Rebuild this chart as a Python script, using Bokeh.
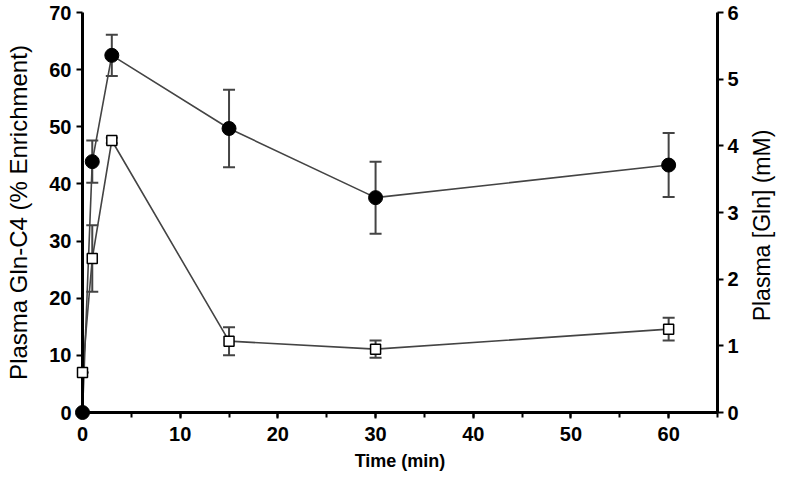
import math
from bokeh.plotting import figure
from bokeh.models import Range1d, LinearAxis, SingleIntervalTicker, Whisker, ColumnDataSource, Label
from bokeh.embed import file_html
from bokeh.resources import INLINE

time_min = [0, 1, 3, 15, 30, 60]
enrich = [0, 43.9, 62.5, 49.7, 37.6, 43.3]
enrich_err = [0, 3.7, 3.6, 6.8, 6.3, 5.6]
gln_mM = [0.60, 2.31, 4.08, 1.07, 0.95, 1.25]
gln_err = [0.0, 0.50, 0.04, 0.21, 0.13, 0.17]

FONT = "Liberation Sans"
LINE = "#444444"

W, H = 777, 477
FL, FR, FT, FB = 82, 717, 12, 412
p = figure(width=W, height=H, output_backend="svg", toolbar_location=None,
           x_range=Range1d(0, 65), y_range=Range1d(0, 70),
           min_border_left=FL, min_border_right=W - FR, min_border_top=FT,
           min_border_bottom=H - FB)
p.extra_y_ranges = {"gln": Range1d(0, 6)}
p.outline_line_color = None
p.xgrid.visible = False
p.ygrid.visible = False
p.background_fill_color = "white"

src_e = ColumnDataSource(dict(x=time_min, y=enrich,
                              lo=[v - e for v, e in zip(enrich, enrich_err)],
                              hi=[v + e for v, e in zip(enrich, enrich_err)]))
src_g = ColumnDataSource(dict(x=time_min, y=gln_mM,
                              lo=[v - e for v, e in zip(gln_mM, gln_err)],
                              hi=[v + e for v, e in zip(gln_mM, gln_err)]))

def whisk(src, **kw):
    w = Whisker(source=src, base="x", lower="lo", upper="hi", line_color=LINE, line_width=2, **kw)
    for h in (w.upper_head, w.lower_head):
        h.size = 12
        h.line_color = LINE
        h.line_width = 2
    p.add_layout(w)

whisk(src_e)
whisk(src_g, y_range_name="gln")

p.line("x", "y", source=src_g, line_color=LINE, line_width=1.6, y_range_name="gln")
p.scatter("x", "y", source=src_g, marker="square", size=10, fill_color="white",
          line_color="black", line_width=1.5, y_range_name="gln", level="overlay")

p.line("x", "y", source=src_e, line_color=LINE, line_width=1.6)
p.scatter("x", "y", source=src_e, marker="circle", size=14, fill_color="black",
          line_color="black", level="overlay")

def style(ax):
    ax.axis_line_width = 3
    ax.axis_line_color = "black"
    ax.major_tick_line_width = 2
    ax.minor_tick_line_width = 2
    ax.major_tick_in = 0
    ax.major_tick_out = 6
    ax.minor_tick_in = 0
    ax.minor_tick_out = 5
    ax.major_label_text_font = FONT
    ax.major_label_text_font_size = "20px"
    ax.major_label_text_font_style = "bold"
    ax.major_label_text_color = "black"
    ax.axis_label_text_font = FONT
    ax.axis_label_text_font_size = "24px"
    ax.axis_label_text_font_style = "normal"
    ax.axis_label_text_color = "black"

xa = p.xaxis[0]
xa.ticker = SingleIntervalTicker(interval=10, num_minor_ticks=2)
xa.axis_label = "Time (min)"
style(xa)
xa.axis_label_text_font_style = "bold"
xa.axis_label_text_font_size = "18px"
xa.major_label_standoff = 8
xa.axis_label_standoff = 7

ya = p.yaxis[0]
ya.ticker = SingleIntervalTicker(interval=10, num_minor_ticks=0)
ya.axis_label = "Plasma Gln-C4 (% Enrichment)"
style(ya)
ya.major_label_standoff = 5
ya.axis_label_standoff = 14

ra = LinearAxis(y_range_name="gln", ticker=SingleIntervalTicker(interval=1, num_minor_ticks=0))
style(ra)
ra.major_label_standoff = 4
p.add_layout(ra, "right")

right_title = Label(x=20, y=FB - 225, x_units="screen", y_units="screen",
                    text="Plasma [Gln] (mM)", angle=math.pi / 2,
                    text_align="center", text_baseline="middle",
                    text_font=FONT, text_font_size="23px", text_color="black")
p.add_layout(right_title, "right")

open("out.html", "w").write(file_html(p, INLINE))
